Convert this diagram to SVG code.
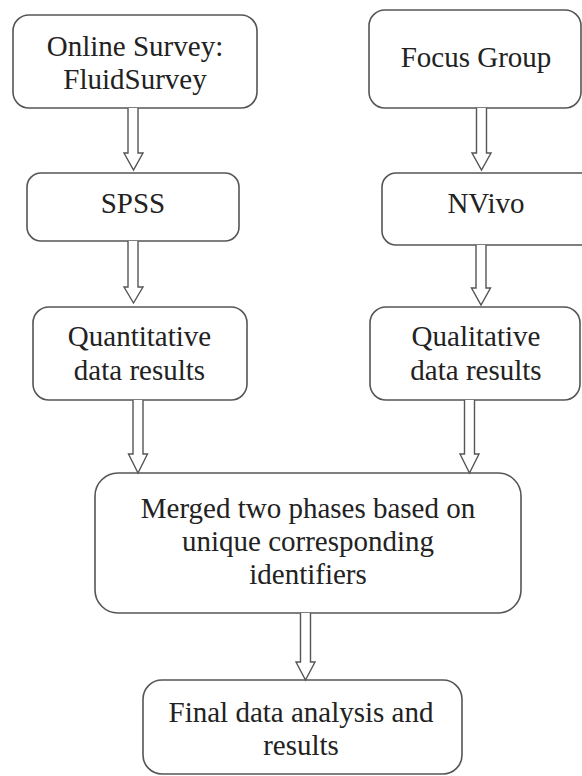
<svg xmlns="http://www.w3.org/2000/svg" width="582" height="776" viewBox="0 0 582 776">
<style>
.box{fill:#fff;stroke:#555;stroke-width:1.6}
.arr{fill:#fff;stroke:#555;stroke-width:1.4;stroke-linejoin:miter}
.t{font-size:29px;fill:#222;text-anchor:middle}
</style>
<rect width="582" height="776" fill="#fff"/>
<g font-family="Liberation Serif, DejaVu Serif, serif">
<g id="n-online">
<rect class="box" x="13" y="15" width="244" height="93" rx="16"/>
<text class="t" x="135" y="56">Online Survey:</text>
<text class="t" x="135" y="89">FluidSurvey</text>
</g>
<g id="n-spss">
<rect class="box" x="27" y="173" width="212" height="68" rx="14"/>
<text class="t" x="133" y="213">SPSS</text>
</g>
<g id="n-quant">
<rect class="box" x="33" y="307" width="214" height="93" rx="16"/>
<text class="t" x="139.5" y="346">Quantitative</text>
<text class="t" x="139.5" y="380">data results</text>
</g>
<g id="n-focus">
<rect class="box" x="369" y="10" width="212" height="98" rx="16"/>
<text class="t" x="476" y="67">Focus Group</text>
</g>
<g id="n-nvivo">
<rect class="box" x="382" y="173" width="215" height="72" rx="14"/>
<text class="t" x="486" y="213">NVivo</text>
</g>
<g id="n-qual">
<rect class="box" x="370" y="307" width="210" height="93" rx="16"/>
<text class="t" x="476" y="346">Qualitative</text>
<text class="t" x="476" y="380">data results</text>
</g>
<g id="n-merged">
<rect class="box" x="95" y="473" width="426" height="140" rx="23"/>
<text class="t" x="308" y="518">Merged two phases based on</text>
<text class="t" x="308" y="551">unique corresponding</text>
<text class="t" x="308" y="584">identifiers</text>
</g>
<g id="n-final">
<rect class="box" x="143" y="680" width="319" height="94" rx="19"/>
<text class="t" x="301" y="722">Final data analysis and</text>
<text class="t" x="301" y="755">results</text>
</g>
</g>
<g id="connectors">
<path class="arr" d="M128 108 L128 153 L124 153 L133.5 170 L143 153 L138 153 L138 108"/>
<path class="arr" d="M128 241 L128 287 L124 287 L133.5 303 L143 287 L138 287 L138 241"/>
<path class="arr" d="M133 400 L133 454 L128.5 454 L138 473 L147.5 454 L143 454 L143 400"/>
<path class="arr" d="M476.5 108 L476.5 153 L472 153 L481.5 170 L491 153 L486.5 153 L486.5 108"/>
<path class="arr" d="M476 245 L476 288 L471.5 288 L481 305 L490.5 288 L486 288 L486 245"/>
<path class="arr" d="M464.5 400 L464.5 454 L460 454 L469.5 473 L479 454 L474.5 454 L474.5 400"/>
<path class="arr" d="M300.5 613 L300.5 662 L296 662 L305.5 680 L315 662 L310.5 662 L310.5 613"/>
</g>
</svg>
